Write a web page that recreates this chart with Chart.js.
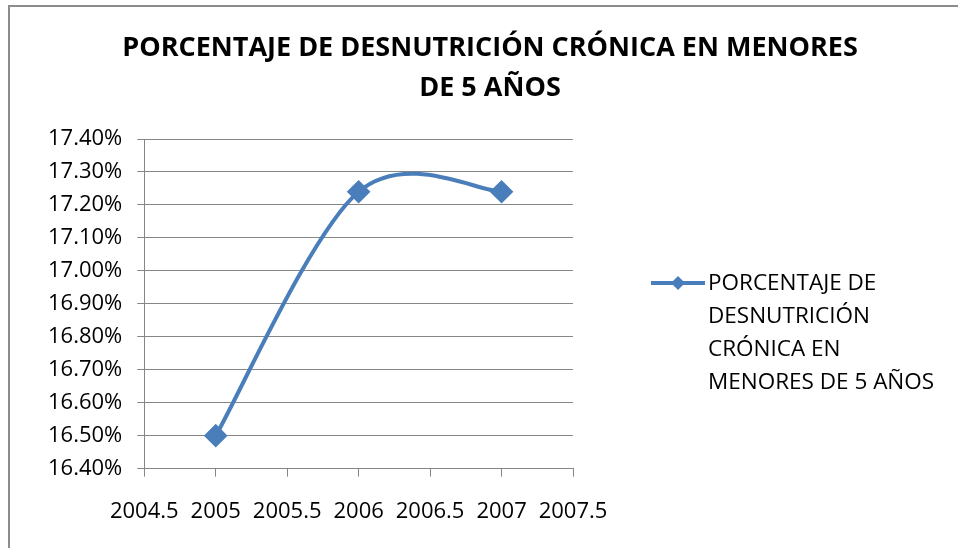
<!DOCTYPE html>
<html lang="es">
<head>
  <meta charset="UTF-8">
  <title>Porcentaje de desnutrición crónica</title>
  <script src="https://cdn.jsdelivr.net/npm/chart.js"></script>
  <style>
    body { margin: 0; background: #fff; }
    #wrap { position: relative; width: 958px; height: 548px; }
    #frame {
      position: absolute; left: 8px; top: 5px; right: 0; bottom: 0;
      border-left: 2px solid #8c8c8c; border-top: 2px solid #8c8c8c;
    }
    canvas { position: absolute; left: 0; top: 0; }
  </style>
</head>
<body>
<div id="wrap">
  <div id="frame"></div>
  <canvas id="chart" width="958" height="548"></canvas>
</div>
<script>
  const titleLines = ['PORCENTAJE DE DESNUTRICIÓN CRÓNICA EN MENORES', 'DE 5 AÑOS'];
  const legendLines = ['PORCENTAJE DE', 'DESNUTRICIÓN', 'CRÓNICA EN', 'MENORES DE 5 AÑOS'];
  const years = [2005, 2006, 2007];
  const values = [16.50, 17.24, 17.24];

  const blue = '#4A7EBB';
  const font = '"Open Sans", Lato, sans-serif';

  // excel-style smoothing: control arms = (next - prev) / 6
  const excelSmooth = {
    id: 'excelSmooth',
    beforeDatasetDraw(chart, args) {
      const meta = args.meta;
      const pts = meta.data;
      meta.dataset.updateControlPoints(chart.chartArea);
      const n = pts.length;
      for (let i = 0; i < n; i++) {
        const prev = pts[Math.max(i - 1, 0)];
        const next = pts[Math.min(i + 1, n - 1)];
        const dx = (next.x - prev.x) / 6;
        const dy = (next.y - prev.y) / 6;
        pts[i].cp1x = pts[i].x - dx;
        pts[i].cp1y = pts[i].y - dy;
        pts[i].cp2x = pts[i].x + dx;
        pts[i].cp2y = pts[i].y + dy;
      }
    }
  };

  // title + wrapped legend drawn by hand (chart.js legend can't wrap)
  const decor = {
    id: 'decor',
    afterDraw(chart) {
      const c = chart.ctx;
      c.save();
      c.fillStyle = '#000';
      c.textAlign = 'center';
      c.textBaseline = 'middle';
      c.font = 'bold 27px ' + font;
      c.fillText(titleLines[0], 490, 48);
      c.fillText(titleLines[1], 490, 88);

      c.strokeStyle = blue;
      c.lineWidth = 4;
      c.beginPath();
      c.moveTo(651, 283);
      c.lineTo(705, 283);
      c.stroke();
      c.fillStyle = blue;
      c.beginPath();
      c.moveTo(678, 276); c.lineTo(685, 283); c.lineTo(678, 290); c.lineTo(671, 283);
      c.closePath();
      c.fill();

      c.fillStyle = '#000';
      c.textAlign = 'left';
      c.font = '22.5px ' + font;
      legendLines.forEach((t, i) => c.fillText(t, 708, 284 + i * 32.7));
      c.restore();
    }
  };

  new Chart(document.getElementById('chart'), {
    type: 'scatter',
    data: {
      datasets: [{
        label: legendLines.join(' '),
        data: years.map((y, i) => ({ x: y, y: values[i] })),
        showLine: true,
        borderColor: blue,
        backgroundColor: blue,
        borderWidth: 4,
        tension: 0.4,
        pointStyle: 'rectRot',
        pointRadius: 9,
        pointHoverRadius: 9
      }]
    },
    options: {
      responsive: false,
      animation: false,
      layout: { padding: { top: 139, right: 385, left: 33, bottom: 1 } },
      plugins: {
        legend: { display: false },
        title: { display: false },
        tooltip: { enabled: false }
      },
      scales: {
        x: {
          type: 'linear',
          min: 2004.5,
          max: 2007.5,
          border: { color: '#868686' },
          grid: { drawOnChartArea: false, color: '#868686', tickLength: 8 },
          ticks: {
            stepSize: 0.5,
            autoSkip: false,
            padding: 22,
            color: '#000',
            font: { family: font, size: 22 },
            maxRotation: 0,
            callback: v => String(v)
          }
        },
        y: {
          min: 16.4,
          max: 17.4,
          border: { color: '#868686' },
          grid: { color: '#868686', tickLength: 7 },
          ticks: {
            stepSize: 0.1,
            padding: 15,
            color: '#000',
            font: { family: font, size: 22 },
            callback: v => v.toFixed(2) + '%'
          }
        }
      }
    },
    plugins: [excelSmooth, decor]
  });
</script>
</body>
</html>
